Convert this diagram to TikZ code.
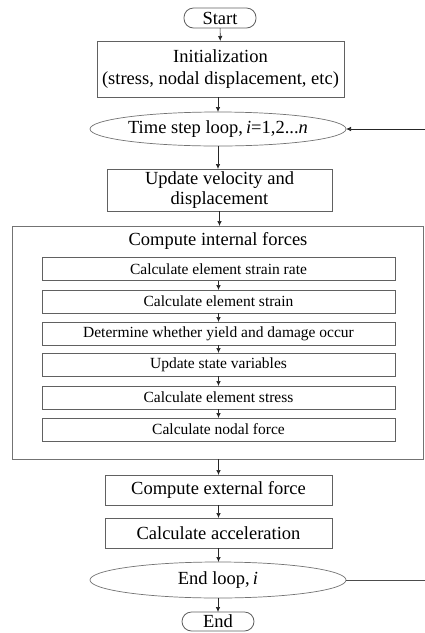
\documentclass[tikz,border=0pt]{standalone}
\usepackage{fontspec}
\setmainfont{Liberation Serif}
\usetikzlibrary{arrows.meta,shapes.geometric}
\begin{document}
\begin{tikzpicture}[x=1pt,y=-1pt,
  every node/.style={inner sep=0pt,outer sep=0pt},
  mainfont/.style={font=\fontsize{18.5}{22}\selectfont},
  subfont/.style={font=\fontsize{15.5}{18}\selectfont},
  box/.style={draw=black!62,line width=0.9pt,rectangle,align=center,mainfont},
  subbox/.style={draw=black!62,line width=0.9pt,rectangle,minimum width=353pt,minimum height=23pt,subfont},
  term/.style={draw=black!62,line width=0.8pt,rectangle,rounded corners=9.5pt,minimum width=72pt,minimum height=20pt,mainfont},
  oval/.style={draw=black!55,line width=0.7pt,ellipse,minimum width=256pt,mainfont},
  arr/.style={draw=black!85,line width=0.7pt,-{Latex[length=5pt,width=4.5pt]}},
  ln/.style={draw=black!70,line width=0.8pt}]
\useasboundingbox (0,0) rectangle (425,633);
\fill[white] (0,0) rectangle (425,633);
\node[term] (start) at (220,18) {Start};
\node[box,minimum width=247pt,minimum height=56pt] (init) at (220.5,69) {Initialization\\(stress, nodal displacement, etc)};
\node[oval,minimum height=34pt] (loop) at (218,129) {Time step loop,\,\textit{i}=1,2...\textit{n}};
\node[box,minimum width=225pt,minimum height=42pt,font=\fontsize{18.5}{20}\selectfont] (update) at (219.5,190) {Update velocity and\\displacement};
\node[draw=black!55,line width=0.9pt,rectangle,minimum width=411pt,minimum height=233pt] (big) at (217.5,342.5) {};
\node[mainfont] (title) at (218,241) {Compute internal forces};
\node[subbox] (s1) at (218.5,269) {Calculate element strain rate};
\node[subbox] (s2) at (218.5,301.5) {Calculate element strain};
\node[subbox] (s3) at (218.5,333.5) {Determine whether yield and damage occur};
\node[subbox] (s4) at (218.5,364.5) {Update state variables};
\node[subbox] (s5) at (218.5,397.5) {Calculate element stress};
\node[subbox] (s6) at (218.5,429.5) {Calculate nodal force};
\node[box,minimum width=227pt,minimum height=30pt] (ext) at (218.5,490) {Compute external force};
\node[box,minimum width=227pt,minimum height=30pt] (acc) at (218.5,533) {Calculate acceleration};
\node[oval,minimum height=36pt] (endloop) at (218,580) {End loop,\,\textit{i}};
\node[term,minimum height=19pt] (end) at (218,621.5) {End};
\coordinate (rtop) at (425,129);
\coordinate (rbot) at (425,580);
\draw[arr] (start) -- (init);
\draw[arr] (init.south -| loop.north) -- (loop.north);
\draw[arr] (loop.south) -- (loop.south |- update.north);
\draw[arr] (update.south) -- (update.south |- big.north);
\draw[arr] (s1) -- (s2);
\draw[arr] (s2) -- (s3);
\draw[arr] (s3) -- (s4);
\draw[arr] (s4) -- (s5);
\draw[arr] (s5) -- (s6);
\draw[arr] (ext.north |- big.south) -- (ext.north);
\draw[arr] (ext) -- (acc);
\draw[arr] (acc.south) -- (acc.south |- endloop.north);
\draw[arr] (endloop.south) -- (endloop.south |- end.north);
\draw[ln] (endloop.east) -- (rbot);
\draw[arr] (rtop) -- (loop.east);
\end{tikzpicture}
\end{document}
